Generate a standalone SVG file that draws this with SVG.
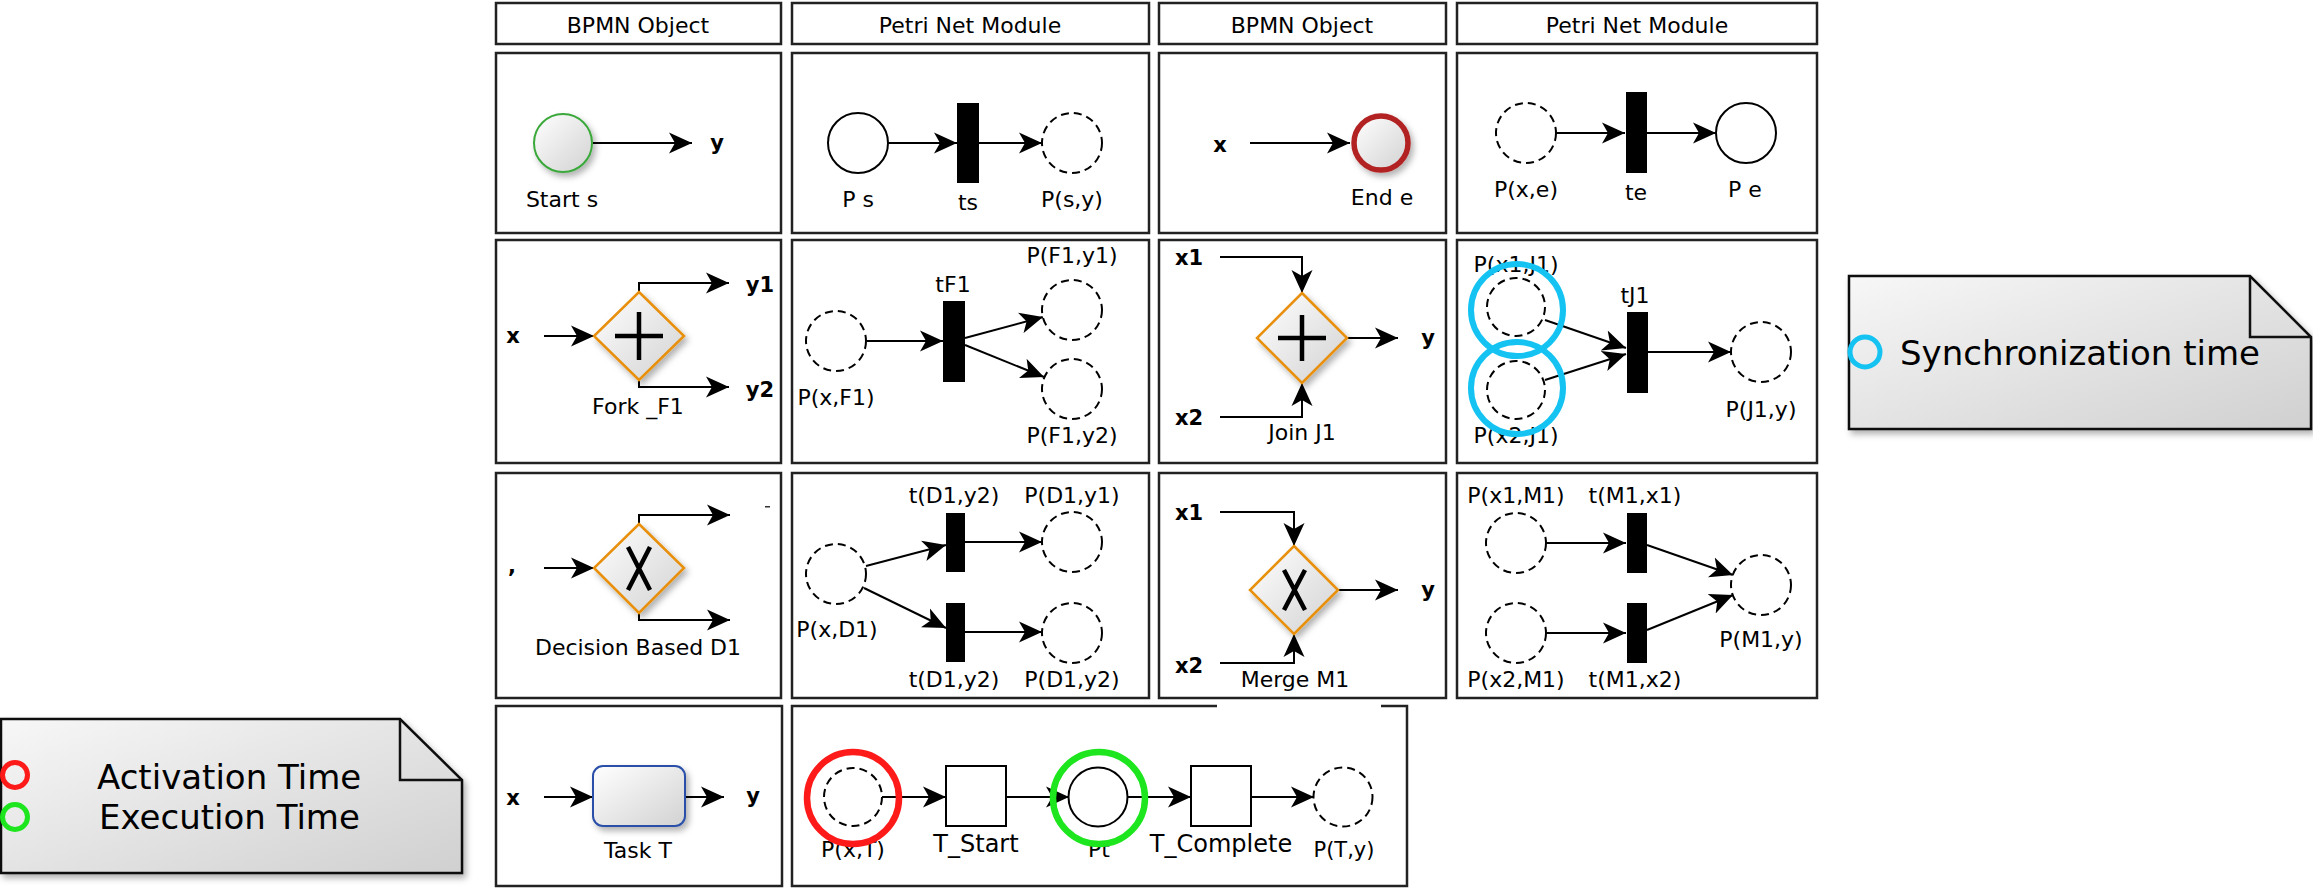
<svg xmlns="http://www.w3.org/2000/svg" width="2313" height="888" viewBox="0 0 2313 888">
<defs>
<style>
.box{fill:#fff;stroke:#222;stroke-width:2.5}
text{font-family:"DejaVu Sans","Liberation Sans",sans-serif;font-size:22px;text-anchor:middle;fill:#000}
.b{font-weight:bold;font-size:21px}
.pl{fill:#fff;stroke:#000;stroke-width:2}
.d{stroke-dasharray:8 5}
.tr{fill:#000}
.c{fill:none;stroke:#000;stroke-width:2;marker-end:url(#arr)}
.gw{fill:url(#bg);stroke:#e8900c;stroke-width:2.5;filter:url(#sh)}
.sym{stroke:#000;stroke-width:4.5;fill:none}
.sq{fill:#fff;stroke:#000;stroke-width:2}
.note{fill:url(#ng);stroke:#111;stroke-width:2.5;filter:url(#sh)}
.fold{fill:none;stroke:#111;stroke-width:2.5}
.nt{font-size:34px;text-anchor:start}
</style>
<marker id="arr" markerUnits="userSpaceOnUse" markerWidth="26" markerHeight="22" refX="23" refY="11" orient="auto">
<path d="M0,0.5 L23,11 L0,21.5 L6,11 Z" fill="#000"/>
</marker>
<linearGradient id="bg" x1="0" y1="0" x2="1" y2="1">
<stop offset="0" stop-color="#ffffff"/>
<stop offset="1" stop-color="#d2d2d2"/>
</linearGradient>
<linearGradient id="ng" x1="0" y1="0" x2="1" y2="1">
<stop offset="0" stop-color="#f7f7f7"/>
<stop offset="1" stop-color="#d0d0d0"/>
</linearGradient>
<filter id="sh" x="-20%" y="-20%" width="150%" height="150%">
<feDropShadow dx="3" dy="4" stdDeviation="3" flood-color="#000" flood-opacity="0.3"/>
</filter>
</defs>
<rect width="2313" height="888" fill="#fff"/>

<g id="grid">
<rect class="box" x="496" y="3" width="285" height="41"/>
<rect class="box" x="792" y="3" width="357" height="41"/>
<rect class="box" x="1159" y="3" width="287" height="41"/>
<rect class="box" x="1457" y="3" width="360" height="41"/>
<text x="638" y="33">BPMN Object</text>
<text x="970" y="33">Petri Net Module</text>
<text x="1302" y="33">BPMN Object</text>
<text x="1637" y="33">Petri Net Module</text>
<rect class="box" x="496" y="53" width="285" height="180"/>
<rect class="box" x="792" y="53" width="357" height="180"/>
<rect class="box" x="1159" y="53" width="287" height="180"/>
<rect class="box" x="1457" y="53" width="360" height="180"/>
<rect class="box" x="496" y="240" width="285" height="223"/>
<rect class="box" x="792" y="240" width="357" height="223"/>
<rect class="box" x="1159" y="240" width="287" height="223"/>
<rect class="box" x="1457" y="240" width="360" height="223"/>
<rect class="box" x="496" y="473" width="285" height="225"/>
<rect class="box" x="792" y="473" width="357" height="225"/>
<rect class="box" x="1159" y="473" width="287" height="225"/>
<rect class="box" x="1457" y="473" width="360" height="225"/>
<rect class="box" x="496" y="706" width="286" height="180"/>
<path d="M1217,706 H792 V886 H1407 V706 H1381" fill="#fff" stroke="#222" stroke-width="2.5"/>
</g>

<g id="connectors">
<line class="c" x1="593" y1="143" x2="692" y2="143"/>
<line class="c" x1="888" y1="143" x2="957" y2="143"/>
<line class="c" x1="979" y1="143" x2="1042" y2="143"/>
<line class="c" x1="1250" y1="143" x2="1350" y2="143"/>
<line class="c" x1="1556" y1="133" x2="1625" y2="133"/>
<line class="c" x1="1647" y1="133" x2="1716" y2="133"/>
<line class="c" x1="544" y1="336" x2="594" y2="336"/>
<path class="c" d="M639,292 V283 H729"/>
<path class="c" d="M639,380 V387 H729"/>
<line class="c" x1="866" y1="341" x2="943" y2="341"/>
<line class="c" x1="965" y1="338" x2="1043" y2="317"/>
<line class="c" x1="965" y1="345" x2="1044" y2="377"/>
<path class="c" d="M1220,257 H1302 V293"/>
<path class="c" d="M1220,417 H1302 V383"/>
<line class="c" x1="1347" y1="338" x2="1398" y2="338"/>
<line class="c" x1="1545" y1="320" x2="1626" y2="348"/>
<line class="c" x1="1545" y1="380" x2="1626" y2="354"/>
<line class="c" x1="1648" y1="352" x2="1731" y2="352"/>
<line class="c" x1="544" y1="568" x2="594" y2="568"/>
<path class="c" d="M639,524 V515 H730"/>
<path class="c" d="M639,613 V620 H730"/>
<line class="c" x1="866" y1="566" x2="946" y2="545"/>
<line class="c" x1="864" y1="588" x2="946" y2="628"/>
<line class="c" x1="965" y1="542" x2="1042" y2="542"/>
<line class="c" x1="965" y1="632" x2="1042" y2="632"/>
<path class="c" d="M1220,512 H1294 V546"/>
<path class="c" d="M1220,663 H1294 V634"/>
<line class="c" x1="1338" y1="590" x2="1398" y2="590"/>
<line class="c" x1="1546" y1="543" x2="1626" y2="543"/>
<line class="c" x1="1546" y1="633" x2="1626" y2="633"/>
<line class="c" x1="1647" y1="545" x2="1733" y2="575"/>
<line class="c" x1="1647" y1="630" x2="1733" y2="595"/>
<line class="c" x1="544" y1="797" x2="593" y2="797"/>
<line class="c" x1="685" y1="797" x2="724" y2="797"/>
<line class="c" x1="882" y1="797" x2="946" y2="797"/>
<line class="c" x1="1006" y1="797" x2="1069" y2="797"/>
<line class="c" x1="1128" y1="797" x2="1191" y2="797"/>
<line class="c" x1="1251" y1="797" x2="1314" y2="797"/>
</g>

<!-- Row 1 -->
<g id="start-s">
<circle cx="563" cy="143" r="29" fill="url(#bg)" stroke="#3aa83a" stroke-width="2" filter="url(#sh)"/>
<text x="562" y="207">Start s</text>
</g>
<g id="lbl-y-r1"><text class="b" x="717" y="150">y</text></g>
<g id="P-s"><circle class="pl" cx="858" cy="143" r="30"/><text x="858" y="207">P s</text></g>
<g id="t-s"><rect class="tr" x="957" y="103" width="22" height="80"/><text x="968" y="210">ts</text></g>
<g id="P-s-y"><circle class="pl d" cx="1072" cy="143" r="30"/><text x="1072" y="207">P(s,y)</text></g>
<g id="lbl-x-r1"><text class="b" x="1220" y="152">x</text></g>
<g id="end-e">
<circle cx="1381" cy="143" r="27" fill="url(#bg)" stroke="#b22222" stroke-width="5.5" filter="url(#sh)"/>
<text x="1382" y="205">End e</text>
</g>
<g id="P-x-e"><circle class="pl d" cx="1526" cy="133" r="30"/><text x="1526" y="197">P(x,e)</text></g>
<g id="t-e"><rect class="tr" x="1626" y="92" width="21" height="81"/><text x="1636" y="200">te</text></g>
<g id="P-e"><circle class="pl" cx="1746" cy="133" r="30"/><text x="1745" y="197">P e</text></g>

<!-- Row 2 -->
<g id="lbl-x-r2"><text class="b" x="513" y="343">x</text></g>
<g id="fork-F1">
<path class="gw" d="M639,292 L684,336 L639,380 L594,336 Z"/>
<path class="sym" d="M615,336 H663 M639,312 V360"/>
<text x="638" y="414">Fork _F1</text>
</g>
<g id="lbl-y1-r2"><text class="b" x="760" y="292">y1</text></g>
<g id="lbl-y2-r2"><text class="b" x="760" y="397">y2</text></g>
<g id="P-x-F1"><circle class="pl d" cx="836" cy="341" r="30"/><text x="836" y="405">P(x,F1)</text></g>
<g id="t-F1"><rect class="tr" x="943" y="301" width="22" height="81"/><text x="953" y="292">tF1</text></g>
<g id="P-F1-y1"><circle class="pl d" cx="1072" cy="310" r="30"/><text x="1072" y="263">P(F1,y1)</text></g>
<g id="P-F1-y2"><circle class="pl d" cx="1072" cy="389" r="30"/><text x="1072" y="443">P(F1,y2)</text></g>
<g id="lbl-x1-r2"><text class="b" x="1189" y="265">x1</text></g>
<g id="lbl-x2-r2"><text class="b" x="1189" y="425">x2</text></g>
<g id="join-J1">
<path class="gw" d="M1302,293 L1347,338 L1302,383 L1257,338 Z"/>
<path class="sym" d="M1278,338 H1326 M1302,315 V361"/>
<text x="1302" y="440">Join J1</text>
</g>
<g id="lbl-y-r2"><text class="b" x="1428" y="345">y</text></g>
<g id="P-x1-J1"><circle class="pl d" cx="1516" cy="307" r="29"/><text x="1516" y="272">P(x1,J1)</text></g>
<g id="P-x2-J1"><circle class="pl d" cx="1516" cy="390" r="29"/><text x="1516" y="443">P(x2,J1)</text></g>
<g id="sync-rings">
<circle cx="1517" cy="310" r="46" fill="none" stroke="#14c3f2" stroke-width="6"/>
<circle cx="1517" cy="388" r="46" fill="none" stroke="#14c3f2" stroke-width="6"/>
</g>
<g id="t-J1"><rect class="tr" x="1627" y="312" width="21" height="81"/><text x="1635" y="303">tJ1</text></g>
<g id="P-J1-y"><circle class="pl d" cx="1761" cy="352" r="30"/><text x="1761" y="417">P(J1,y)</text></g>

<!-- Row 3 -->
<g id="lbl-comma-r3"><text class="b" x="512" y="573">,</text></g>
<g id="mark-r3"><rect x="765" y="506" width="5" height="1.5" fill="#333"/></g>
<g id="decision-D1">
<path class="gw" d="M639,524 L684,568 L639,613 L594,568 Z"/>
<path class="sym" d="M628,547 L650,590 M650,547 L628,590" stroke-width="4"/>
<text x="638" y="655">Decision Based D1</text>
</g>
<g id="P-x-D1"><circle class="pl d" cx="836" cy="574" r="30"/><text x="837" y="637">P(x,D1)</text></g>
<g id="t-D1-y1"><rect class="tr" x="946" y="513" width="19" height="59"/><text x="954" y="503">t(D1,y2)</text></g>
<g id="t-D1-y2"><rect class="tr" x="946" y="603" width="19" height="59"/><text x="954" y="687">t(D1,y2)</text></g>
<g id="P-D1-y1"><circle class="pl d" cx="1072" cy="542" r="30"/><text x="1072" y="503">P(D1,y1)</text></g>
<g id="P-D1-y2"><circle class="pl d" cx="1072" cy="633" r="30"/><text x="1072" y="687">P(D1,y2)</text></g>
<g id="lbl-x1-r3"><text class="b" x="1189" y="520">x1</text></g>
<g id="lbl-x2-r3"><text class="b" x="1189" y="673">x2</text></g>
<g id="merge-M1">
<path class="gw" d="M1294,546 L1338,590 L1294,634 L1250,590 Z"/>
<path class="sym" d="M1284,570 L1305,610 M1305,570 L1284,610" stroke-width="4"/>
<text x="1295" y="687">Merge M1</text>
</g>
<g id="lbl-y-r3"><text class="b" x="1428" y="597">y</text></g>
<g id="P-x1-M1"><circle class="pl d" cx="1516" cy="543" r="30"/><text x="1516" y="503">P(x1,M1)</text></g>
<g id="P-x2-M1"><circle class="pl d" cx="1516" cy="633" r="30"/><text x="1516" y="687">P(x2,M1)</text></g>
<g id="t-M1-x1"><rect class="tr" x="1627" y="513" width="20" height="60"/><text x="1635" y="503">t(M1,x1)</text></g>
<g id="t-M1-x2"><rect class="tr" x="1627" y="603" width="20" height="60"/><text x="1635" y="687">t(M1,x2)</text></g>
<g id="P-M1-y"><circle class="pl d" cx="1761" cy="585" r="30"/><text x="1761" y="647">P(M1,y)</text></g>

<!-- Row 4 -->
<g id="lbl-x-r4"><text class="b" x="513" y="805">x</text></g>
<g id="task-T">
<rect x="593" y="766" width="92" height="60" rx="10" fill="url(#bg)" stroke="#2b50a8" stroke-width="2" filter="url(#sh)"/>
<text x="638" y="858">Task T</text>
</g>
<g id="lbl-y-r4"><text class="b" x="753" y="803">y</text></g>
<g id="P-x-T"><circle class="pl d" cx="853" cy="797" r="29"/><text x="853" y="857">P(x,T)</text></g>
<g id="activation-ring"><circle cx="853" cy="798" r="46" fill="none" stroke="#ff1a1a" stroke-width="6.5"/></g>
<g id="T-Start"><rect class="sq" x="946" y="766" width="60" height="60"/><text x="976" y="852" style="font-size:24px">T_Start</text></g>
<g id="Pt"><circle class="pl" cx="1098" cy="797" r="29.5"/><text x="1099" y="857">Pt</text></g>
<g id="execution-ring"><circle cx="1099" cy="798" r="46" fill="none" stroke="#1ee61e" stroke-width="6.5"/></g>
<g id="T-Complete"><rect class="sq" x="1191" y="766" width="60" height="60"/><text x="1221" y="852" style="font-size:24px">T_Complete</text></g>
<g id="P-T-y"><circle class="pl d" cx="1343" cy="797" r="29.5"/><text x="1344" y="857" style="font-size:21px">P(T,y)</text></g>

<!-- Notes -->
<g id="note-times">
<path class="note" d="M1,719 H400 L462,780 V873 H1 Z"/>
<path class="fold" d="M400,719 V780 H462"/>
<circle cx="15" cy="775" r="12.5" fill="none" stroke="#ff1a1a" stroke-width="5"/>
<circle cx="15" cy="817" r="12.5" fill="none" stroke="#1ee61e" stroke-width="5"/>
<text class="nt" x="97" y="789">Activation Time</text>
<text class="nt" x="99" y="829">Execution Time</text>
</g>
<g id="note-sync">
<path class="note" d="M1849,276 H2250 L2311,337 V429 H1849 Z"/>
<path class="fold" d="M2250,276 V337 H2311"/>
<circle cx="1865" cy="352" r="15" fill="none" stroke="#14c3f2" stroke-width="5"/>
<text class="nt" x="1900" y="365">Synchronization time</text>
</g>
</svg>
